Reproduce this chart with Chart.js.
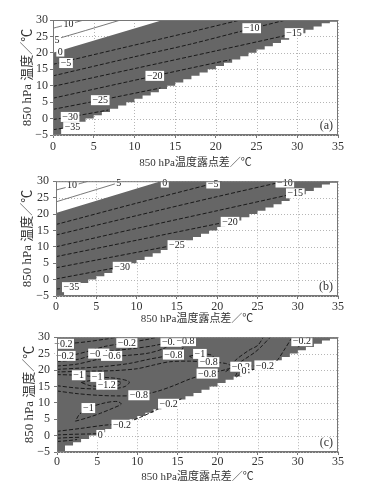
<!DOCTYPE html>
<html lang="zh">
<head>
<meta charset="UTF-8">
<title>850 hPa 温度与温度露点差</title>
<script src="https://cdn.jsdelivr.net/npm/chart.js"></script>
<style>
  body { margin: 0; background: #fff; }
  .panel { position: absolute; left: 0; width: 367px; }
  #pa { top: 0; height: 170px; }
  #pb { top: 170px; height: 156px; }
  #pc { top: 326px; height: 158px; }
</style>
</head>
<body>
<div class="panel" id="pa"><canvas id="ca"></canvas></div>
<div class="panel" id="pb"><canvas id="cb"></canvas></div>
<div class="panel" id="pc"><canvas id="cc"></canvas></div>

<script>
// lower (staircase) edge of the shaded area, one value per 1-degree column from x=0 to x=35
const stairLow = [-5,-3,-2,-1,0,1,2,3,4,5,6,7,8,9,10,11,12,13,14,15,16,17,18,19,20,21,22,23,24,25,26,27,28,29,29.5];
// upper edge of the shaded area (zero line) in (a) and (b)
const topEdgeA = [[0,20],[13.5,30]];
const topEdgeB = [[0,20.3],[13,30]];
const gridX = [0,5,10,15,20,25,30,35];
const gridY = [-5,0,5,10,15,20,25,30];

// (a) contours
const a_p10 = [[0,27.5],[1.9,28.7],[3.8,30]];
const a_p5  = [[0,23.9],[4,26.8],[8.3,30]];
const a_m5  = [[0,16.5],[8,21.2],[16.8,26.3],[23,30]];
const a_m10 = [[0,13],[10,18.8],[16.8,22.6],[24.4,27.4],[28.6,30]];
const a_m15 = [[0,9.8],[10,15.2],[20,20.6],[29.5,25.8]];
const a_m20 = [[0,6.2],[12.5,13],[20,17],[21.8,17.9]];
const a_m25 = [[0,2.8],[5.8,5.6],[13.2,9.3]];
const a_m30 = [[0,-0.3],[2.1,0.5],[6.8,2.6]];
const a_m35 = [[0,-3.4],[2.3,-2.5]];
const labelsA = [['10',1.9,28.8],['5',0.5,23.9],['0',0.9,20.4],['-5',1.6,16.9],['-10',24.4,27.5],
  ['-15',29.6,26],['-20',12.5,13],['-25',5.8,5.6],['-30',2.1,0.5],['-35',2.4,-2.6]];

// (b) contours
const b_p10 = [[0,27.3],[2,28.6],[4,30]];
const b_p5  = [[0,23.7],[4,26.7],[8.4,30]];
const b_m5  = [[0,16.8],[10,23.3],[19.5,29.3],[20.6,30]];
const b_m10 = [[0,13.6],[10,19.5],[20,25.3],[28.4,30]];
const b_m15 = [[0,10],[10,15.6],[20,21],[29.2,26]];
const b_m20 = [[0,7],[10,12],[21,17.5]];
const b_m25 = [[0,3.6],[7,6.9],[14.5,10.4]];
const b_m30 = [[0,0.2],[7.8,3.8]];
const b_m35 = [[0,-2.9],[1.6,-2.4]];
const labelsB = [['10',2,28.9],['5',7.8,29.5],['0',13.5,29.6],['-5',19.5,29.3],['-10',28.4,29.6],
  ['-15',29.7,26.3],['-20',21.6,17.6],['-25',15,10.5],['-30',8.2,3.9],['-35',1.9,-2.3]];

// (c) contours (differences)
const c_l1  = [[0,28.2],[2,28.2],[4,28.7],[6,29.4],[7.5,30]];
const c_l2  = [[0,24.2],[2,24.6],[4,25.8],[6,27.2],[8.7,28.3],[11,29.2],[12.5,30]];
const c_l3  = [[0,22.6],[2.5,23.2],[4.5,24.6],[6,25.6],[9,26.4],[12,27.4],[14,28.6],[15,30]];
const c_l4  = [[0,21.2],[2.5,21.8],[5,23.2],[6.8,24.1],[9,24.5],[11.5,25.2],[13.5,26.8],[14.2,28.6],[14.6,30]];
const c_l5  = [[0,20.2],[3,20.6],[6,21.1],[9,22],[11.5,23.3],[13.5,24.2],[14.5,24.7],[15.5,26],[16,28.6],[16.3,30]];
const c_l6  = [[0,18.6],[2.7,18.4],[5,17.9],[7.5,17.4],[9,16.4],[8.5,15],[7,14.3],[5,14.2],[2.5,14.5],[0,15.2]];
const c_l7  = [[3,16.2],[4.5,16.9],[6.5,16.9],[8,16.2],[7.6,15.3],[6.2,15],[4.2,15.2],[3,16.2]];
const c_l8  = [[0,13.6],[2.5,12.8],[5,12.3],[7.5,12.1],[10.2,12.3],[12.5,13.5],[14.5,15.2],[16.5,17.2],[18.7,18.9],
  [21,20.1],[21.8,21],[21,22],[18.9,22.4],[16.5,22.7],[14,22.5],[12,21.5],[10,20.4],[7,19.8],[3,19.6],[0,19.4]];
const c_l9  = [[16.5,24.2],[17.8,24.9],[19.2,24.6],[19.5,23.8],[18.5,23.4],[17,23.6],[16.5,24.2]];
const c_l10 = [[2.3,4.4],[4,5.6],[5.4,6.8],[7,8.4],[8,9.6],[7.5,10.4],[6,10],[3.9,8.4],[2.8,6.5],[2.3,4.4]];
const c_l11 = [[0,1.3],[3,2.2],[6,3.2],[8.1,3.6],[10,5.2],[12,7.4],[13.9,9.7],[15.5,11.2]];
const c_l12 = [[0,0.2],[2,0.4],[4,0.5],[5.4,0.6]];
const c_l13 = [[0,-0.8],[1.5,-0.6],[3,-0.5]];
const c_l14 = [[0,-1.8],[1.5,-1.5],[2.5,-1.2]];
const c_r1  = [[21,19.5],[22.2,21.4],[23.5,23.5],[24.7,25.5],[25.6,27.5],[26.4,29.6],[26.6,30]];
const c_r2  = [[21.8,21],[22.2,22.9],[23.9,26],[25,27.5],[25.7,30]];
const c_r3  = [[22.2,18],[22.9,20.8],[25.9,21.4],[27.2,22.4],[28.4,26.5],[29.2,29.6],[29.4,30]];
const c_r4  = [[22.3,17.8],[23.3,19.6],[24.5,20.2],[25.5,20.6]];
const c_r5  = [[30,27],[31,28.6],[32,30]];
const labelsC = [['-0.2',0.8,28],['-0.2',1,24.3],['-0.4',5.2,25],['-0.6',6.8,24.3],['-0.2',8.7,28.3],
  ['-1',2.7,18.4],['-1',5,17.9],['-1.2',6.2,15.5],['-0.8',10.2,12.3],['-1',3.9,8.4],['-0.2',8.1,3.3],['0',5.4,0.2],
  ['-0.6',14.2,28.6],['-0.8',16,28.8],['-0.8',14.5,24.7],['-1',17.8,24.9],['-0.8',18.9,22.4],['-0.8',18.7,18.9],
  ['-0.2',13.9,9.7],['-0.2',30.5,28.8],['-0.2',25.9,21.4],['-0.2',22.9,21],['0',23.3,19.6]];

const FONT = "'Liberation Serif', 'Noto Sans CJK SC', serif";
const minus = s => String(s).replace('-', '\u2212');

function regionPoints(top) {
  const pts = top ? top.map(p => ({x: p[0], y: p[1]})) : [{x: 0, y: 30}];
  pts.push({x: 35, y: 30});
  for (let i = stairLow.length - 1; i >= 0; i--) {
    pts.push({x: i + 1, y: stairLow[i]});
    pts.push({x: i, y: stairLow[i]});
  }
  return pts;
}

function region(top) {
  return { data: regionPoints(top), showLine: true, pointRadius: 0, borderWidth: 1,
    borderColor: 'rgba(0,0,0,0)', backgroundColor: '#666666', fill: 'shape', tension: 0, order: 10 };
}

function contour(pts, solid) {
  return { data: pts.map(p => ({x: p[0], y: p[1]})), showLine: true, pointRadius: 0,
    borderColor: solid ? '#555' : '#1a1a1a', borderWidth: solid ? 0.8 : 1,
    borderDash: solid ? [] : [4, 2], fill: false, tension: 0.3, order: 1 };
}

// dotted grid under the shading
const dottedGrid = {
  id: 'dottedGrid',
  beforeDatasetsDraw(chart) {
    const {ctx, chartArea: a, scales: {x, y}} = chart;
    ctx.save();
    ctx.strokeStyle = '#b5b5b5';
    ctx.lineWidth = 1;
    ctx.setLineDash([1, 2]);
    ctx.beginPath();
    gridX.forEach(v => { const p = Math.round(x.getPixelForValue(v)) + 0.5; ctx.moveTo(p, a.top); ctx.lineTo(p, a.bottom); });
    gridY.forEach(v => { const p = Math.round(y.getPixelForValue(v)) + 0.5; ctx.moveTo(a.left, p); ctx.lineTo(a.right, p); });
    ctx.stroke();
    ctx.restore();
  }
};

const contourLabels = {
  id: 'contourLabels',
  afterDatasetsDraw(chart, args, opts) {
    const {ctx, chartArea: a, scales: {x, y}} = chart;
    ctx.save();
    ctx.font = '10px ' + FONT;
    ctx.textAlign = 'center';
    ctx.textBaseline = 'middle';
    opts.items.forEach(([t, vx, vy]) => {
      const s = minus(t);
      const px = x.getPixelForValue(vx), py = y.getPixelForValue(vy);
      const w = ctx.measureText(s).width + 3;
      ctx.fillStyle = '#fff';
      ctx.fillRect(px - w / 2, py - 5, w, 10);
      ctx.fillStyle = '#222';
      ctx.fillText(s, px, py + 0.5);
    });
    // frame round the plot
    ctx.strokeStyle = '#777';
    ctx.lineWidth = 1;
    ctx.strokeRect(a.left + 0.5, a.top + 0.5, a.right - a.left - 1, a.bottom - a.top - 1);
    // panel tag
    ctx.font = '12px ' + FONT;
    ctx.textAlign = 'right';
    ctx.fillStyle = '#333';
    ctx.fillText(opts.tag, a.right - 5, a.bottom - 9);
    ctx.restore();
  }
};

function makePanel(id, cfg) {
  const datasets = [region(cfg.top)];
  cfg.solid.forEach(p => datasets.push(contour(p, true)));
  cfg.dashed.forEach(p => datasets.push(contour(p, false)));
  new Chart(document.getElementById(id), {
    type: 'scatter',
    data: { datasets },
    plugins: [dottedGrid, contourLabels],
    options: {
      responsive: true, maintainAspectRatio: false, animation: false,
      layout: { padding: { top: cfg.padTop, right: 29, left: 0, bottom: 0 } },
      plugins: { legend: { display: false }, tooltip: { enabled: false },
        contourLabels: { items: cfg.labels, tag: cfg.tag } },
      scales: {
        x: {
          type: 'linear', min: 0, max: 35,
          ticks: { stepSize: 5, autoSkip: false, maxRotation: 0, color: '#333', padding: cfg.xTickPad,
            font: { family: FONT, size: 12 } },
          grid: { drawOnChartArea: false, tickColor: '#777', tickLength: 3 },
          border: { display: true, color: '#777' },
          title: { display: true, text: '850 hPa温度露点差／℃', color: '#333', padding: 0,
            font: { family: FONT, size: 11 } },
          afterFit(s) { s.height = cfg.xHeight; }
        },
        y: {
          type: 'linear', min: -5, max: 30,
          ticks: { stepSize: 5, autoSkip: false, color: '#333', padding: cfg.yTickPad,
            font: { family: FONT, size: 12 }, callback: v => minus(v) },
          grid: { drawOnChartArea: false, tickColor: '#777', tickLength: 3 },
          border: { display: true, color: '#777' },
          title: { display: true, text: '850 hPa 温度／℃', color: '#333', padding: { top: cfg.yTitlePad, bottom: 0 },
            font: { family: FONT, size: 13 } },
          afterFit(s) { s.width = cfg.yWidth; }
        }
      }
    }
  });
}

makePanel('ca', { top: topEdgeA, solid: [a_p10, a_p5],
  dashed: [a_m5, a_m10, a_m15, a_m20, a_m25, a_m30, a_m35], labels: labelsA, tag: '(a)',
  padTop: 20, yWidth: 53, xHeight: 35, xTickPad: 2, yTickPad: 2, yTitlePad: 19.5 });
makePanel('cb', { top: topEdgeB, solid: [b_p10, b_p5],
  dashed: [b_m5, b_m10, b_m15, b_m20, b_m25, b_m30, b_m35], labels: labelsB, tag: '(b)',
  padTop: 11, yWidth: 56, xHeight: 30, xTickPad: 1, yTickPad: 4, yTitlePad: 20 });
makePanel('cc', { top: null, solid: [],
  dashed: [c_l1, c_l2, c_l3, c_l4, c_l5, c_l6, c_l7, c_l8, c_l9, c_l10, c_l11, c_l12, c_l13, c_l14,
    c_r1, c_r2, c_r3, c_r4, c_r5], labels: labelsC, tag: '(c)',
  padTop: 11, yWidth: 57, xHeight: 32, xTickPad: 0, yTickPad: 4, yTitlePad: 22 });
</script>
</body>
</html>
